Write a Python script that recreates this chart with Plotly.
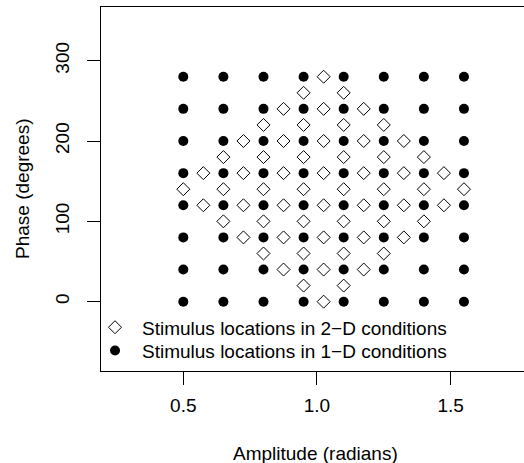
import plotly.graph_objects as go

# 1-D condition grid levels
amp_levels_1d = [0.5, 0.65, 0.8, 0.95, 1.1, 1.25, 1.4, 1.55]
phase_levels_1d = [0, 40, 80, 120, 160, 200, 240, 280]

amp_1d = [a for p in phase_levels_1d for a in amp_levels_1d]
phase_1d = [p for p in phase_levels_1d for a in amp_levels_1d]

# 2-D condition stimulus locations (diamond lattice), row by row
amp_2d = [
    1.025,
    0.95, 1.1,
    0.875, 1.025, 1.175,
    0.8, 0.95, 1.1, 1.25,
    0.725, 0.875, 1.025, 1.175, 1.325,
    0.65, 0.8, 0.95, 1.1, 1.25, 1.4,
    0.575, 0.725, 0.875, 1.025, 1.175, 1.325, 1.475,
    0.5, 0.65, 0.8, 0.95, 1.1, 1.25, 1.4, 1.55,
    0.575, 0.725, 0.875, 1.025, 1.175, 1.325, 1.475,
    0.65, 0.8, 0.95, 1.1, 1.25, 1.4,
    0.725, 0.875, 1.025, 1.175, 1.325,
    0.8, 0.95, 1.1, 1.25,
    0.875, 1.025, 1.175,
    0.95, 1.1,
    1.025,
]
phase_2d = (
    [0] * 1 + [20] * 2 + [40] * 3 + [60] * 4 + [80] * 5 + [100] * 6 + [120] * 7
    + [140] * 8
    + [160] * 7 + [180] * 6 + [200] * 5 + [220] * 4 + [240] * 3 + [260] * 2 + [280] * 1
)

x_ticks = [0.5, 1.0, 1.5]
x_tick_labels = ["0.5", "1.0", "1.5"]
y_ticks = [0, 100, 200, 300]
y_tick_labels = ["0", "100", "200", "300"]

FONT = "Liberation Sans, Arial, Helvetica, sans-serif"
FS = 19

fig = go.Figure()
fig.add_trace(go.Scatter(
    x=amp_2d, y=phase_2d, mode="markers",
    name="Stimulus locations in 2\u2212D conditions",
    marker=dict(symbol="diamond-open", size=10, color="black", line=dict(width=1, color="black")),
    legend="legend",
))
fig.add_trace(go.Scatter(
    x=amp_1d, y=phase_1d, mode="markers",
    name="Stimulus locations in 1\u2212D conditions",
    marker=dict(symbol="circle", size=10, color="black", line=dict(width=0)),
    legend="legend2",
))

legend_common = dict(
    xanchor="left", yanchor="top",
    bgcolor="rgba(0,0,0,0)", borderwidth=0, itemwidth=44,
    font=dict(family=FONT, size=FS, color="black"),
)

fig.update_layout(
    width=524, height=463,
    margin=dict(l=101, r=0, t=7, b=92),
    paper_bgcolor="white", plot_bgcolor="white",
    font=dict(family=FONT, size=FS, color="black"),
    showlegend=True,
    legend=dict(x=-0.0307, y=0.172, **legend_common),
    legend2=dict(x=-0.0307, y=0.108, **legend_common),
    xaxis=dict(
        range=[0.1921, 1.7746], tickmode="array", tickvals=x_ticks, ticktext=x_tick_labels,
        showgrid=False, zeroline=False, showline=True, mirror=True,
        linecolor="black", linewidth=1,
        ticks="outside", ticklen=13, tickwidth=1, tickcolor="black",
        ticklabelstandoff=4,
    ),
    yaxis=dict(
        range=[-86.3, 366.8], tickmode="array", tickvals=y_ticks, ticktext=y_tick_labels,
        showgrid=False, zeroline=False, showline=True, mirror=False,
        linecolor="black", linewidth=1,
        ticks="outside", ticklen=13, tickwidth=1, tickcolor="black",
        tickangle=-90, ticklabelstandoff=10,
    ),
    annotations=[
        dict(text="Amplitude (radians)", xref="paper", yref="paper",
             x=0.508, y=-0.2253, xanchor="center", yanchor="middle",
             showarrow=False, font=dict(family=FONT, size=FS, color="black")),
        dict(text="Phase (degrees)", xref="paper", yref="paper",
             x=-0.1868, y=0.5, xanchor="center", yanchor="middle", textangle=-90,
             showarrow=False, font=dict(family=FONT, size=FS, color="black")),
    ],
)

fig.write_html("out.html")
